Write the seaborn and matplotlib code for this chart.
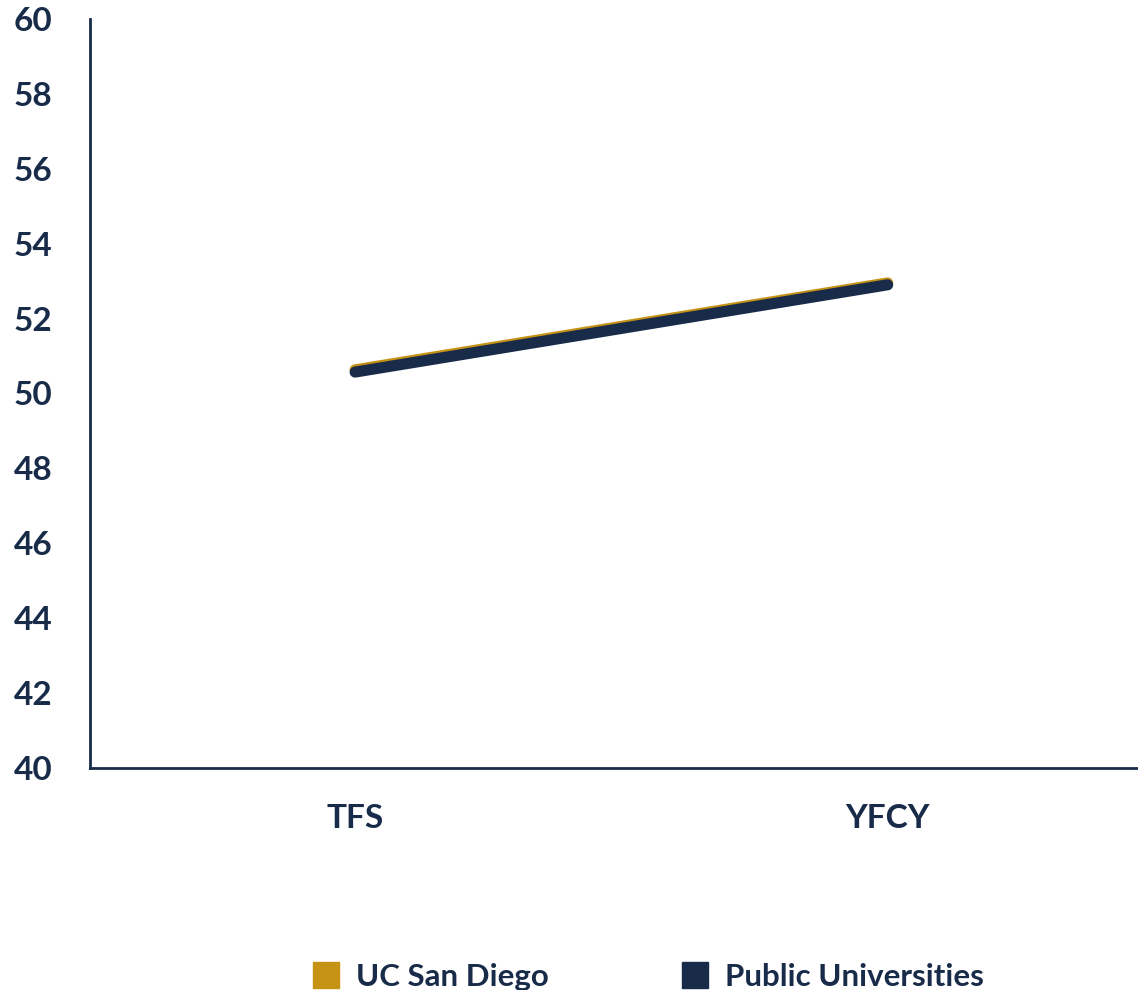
import matplotlib
matplotlib.use("Agg")
import matplotlib.pyplot as plt
import seaborn as sns
import pandas as pd
from matplotlib.lines import Line2D

categories = ["TFS", "YFCY"]
ucsd = [50.63, 52.95]
public = [50.57, 52.90]
series_names = ["UC San Diego", "Public Universities"]
yticks = list(range(40, 61, 2))

GOLD = "#C69214"
NAVY = "#182B49"

sns.set_theme(style="white")
plt.rcParams['font.family'] = ['Lato', 'DejaVu Sans']

df = pd.DataFrame({
    "x": [0, 1, 0, 1],
    "value": ucsd + public,
    "series": [series_names[0]] * 2 + [series_names[1]] * 2,
})

fig = plt.figure(figsize=(11.38, 9.9), dpi=100)
ax = fig.add_axes([0.079, 0.2242, 0.921, 0.7568])

sns.lineplot(data=df, x="x", y="value", hue="series",
             palette={series_names[0]: GOLD, series_names[1]: NAVY},
             linewidth=8, ax=ax, legend=False, solid_capstyle="round")

ax.set_xlim(-0.498, 1.47)
ax.set_ylim(40, 60)
ax.set_yticks(yticks)
ax.set_yticklabels([str(t) for t in yticks])
ax.set_xticks([0, 1])
ax.set_xticklabels(categories)
ax.set_xlabel("")
ax.set_ylabel("")
for lab in ax.get_xticklabels() + ax.get_yticklabels():
    lab.set_fontsize(24)
    lab.set_fontweight("bold")
    lab.set_color(NAVY)
ax.tick_params(axis="y", length=0, pad=27)
ax.tick_params(axis="x", length=0, pad=26)
for s in ["top", "right"]:
    ax.spines[s].set_visible(False)
for s in ["left", "bottom"]:
    ax.spines[s].set_color(NAVY)
    ax.spines[s].set_linewidth(2)

handles = [Line2D([], [], marker="s", linestyle="none", markersize=19,
                  markerfacecolor=GOLD, markeredgecolor=GOLD),
           Line2D([], [], marker="s", linestyle="none", markersize=19,
                  markerfacecolor=NAVY, markeredgecolor=NAVY)]
leg = fig.legend(handles, series_names, loc="lower center", ncol=2,
                 bbox_to_anchor=(0.5685, -0.029), frameon=False,
                 prop={"size": 22.5, "weight": "bold"}, columnspacing=4.2,
                 handletextpad=0.45, handlelength=1.0)
for t in leg.get_texts():
    t.set_color(NAVY)

fig.savefig("out.png", dpi=100)
